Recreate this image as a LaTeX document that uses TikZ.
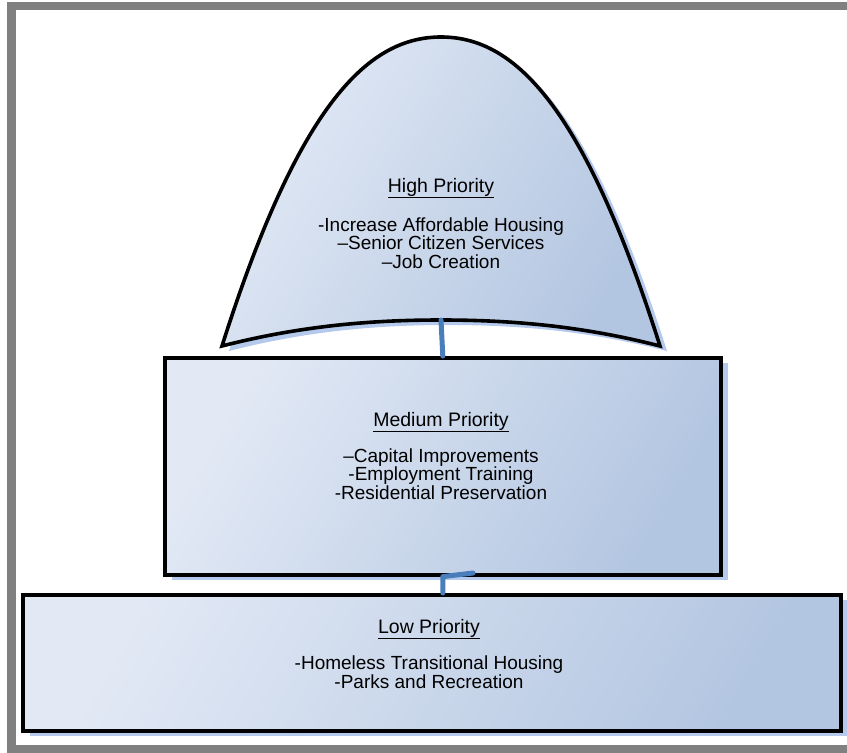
\documentclass[tikz,border=0pt]{standalone}
\usepackage{fontspec}
\setmainfont{Liberation Sans}
\usetikzlibrary{shadows}
\definecolor{framegray}{HTML}{808080}
\definecolor{tierlight}{HTML}{E2E9F5}
\definecolor{tierdark}{HTML}{B3C6E1}
\definecolor{shadowblue}{HTML}{B4C9EC}
\definecolor{linkblue}{HTML}{4A7EBB}
\begin{document}
\begin{tikzpicture}[x=1pt,y=-1pt,
  frameband/.style={fill=framegray, draw=none},
  tier/.style={draw=black, line width=3.6pt, top color=tierlight, bottom color=tierdark, shading angle=60,
    drop shadow={shadow xshift=7pt, shadow yshift=-5pt, fill=shadowblue, opacity=1}},
  tierbox/.style={tier, inner sep=0pt, anchor=north west},
  link/.style={draw=linkblue, line width=5pt, line cap=round, line join=round},
  head/.style={font=\fontsize{19.5}{20}\selectfont},
  items/.style={align=center, font=\fontsize{19}{18.5}\selectfont, inner sep=0pt}]
\useasboundingbox (0,0) rectangle (847,753);
% frame
\fill[frameband] (7,2) rectangle (847,10);
\fill[frameband] (7,2) rectangle (16,748);
\fill[frameband] (7,745) rectangle (847,753);
% high priority arch
\coordinate (archtop) at (441,37);
\coordinate (archbase) at (441,320);
\filldraw[tier] (222,346) .. controls (300,100) and (370,37) .. (archtop)
  .. controls (512,37) and (582,100) .. (660,346)
  .. controls (582,326) and (512,320) .. (archbase)
  .. controls (370,320) and (300,326) .. (222,346) -- cycle;
% medium and low boxes
\node[tierbox, minimum width=556pt, minimum height=217pt] (med) at (163,356) {};
\node[tierbox, minimum width=818pt, minimum height=136pt] (low) at (21,593) {};
% texts
\node[head] (hhead) at (441,188) {\underline{High Priority}};
\node[items] (hitems) at (441,243) {-Increase Affordable Housing\\–Senior Citizen Services\\–Job Creation};
\node[head] (mhead) at (441,422) {\underline{Medium Priority}};
\node[items] (mitems) at (441,474) {–Capital Improvements\\-Employment Training\\-Residential Preservation};
\node[head] (lhead) at (429,629) {\underline{Low Priority}};
\node[items] (litems) at (429,672) {-Homeless Transitional Housing\\-Parks and Recreation};
% connectors
\coordinate (elbow) at (473,573);
\draw[link] (archbase) -- (med.north);
\draw[link] (elbow) -- (med.south) -- (med.south |- low.north);
\end{tikzpicture}
\end{document}
